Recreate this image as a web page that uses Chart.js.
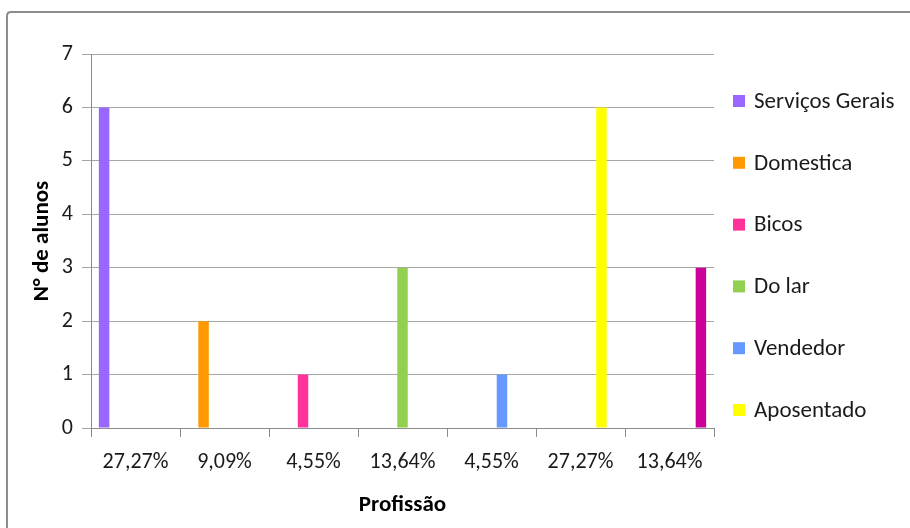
<!DOCTYPE html>
<html>
<head>
<meta charset="utf-8">
<script src="https://cdn.jsdelivr.net/npm/chart.js@4.4.1/dist/chart.umd.min.js"></script>
<style>
  html, body { margin: 0; padding: 0; background: #fff; }
  #wrap { width: 910px; height: 528px; position: relative; }
</style>
</head>
<body>
<div id="wrap"><canvas id="profChart" width="910" height="528"></canvas></div>
<script>
// Profissão dos responsáveis
const categories = ['27,27%', '9,09%', '4,55%', '13,64%', '4,55%', '27,27%', '13,64%'];
const seriesNames = ['Serviços Gerais', 'Domestica', 'Bicos', 'Do lar', 'Vendedor', 'Aposentado', 'Outros'];
const counts = [6, 2, 1, 3, 1, 6, 3];
const colors = ['#9966FF', '#FF9900', '#FF3399', '#92D050', '#6699FF', '#FFFF00', '#CC0099'];
const yTicks = [0, 1, 2, 3, 4, 5, 6, 7];

const FONT = 'Carlito, Lato, "Liberation Sans", sans-serif';

// each series only has a value in its own category (Excel clustered look)
const datasets = seriesNames.map((name, i) => ({
    label: name,
    data: categories.map((c, j) => (j === i ? counts[i] : null)),
    backgroundColor: colors[i],
    borderWidth: 0,
    categoryPercentage: 7 / 8.5,
    barPercentage: 1.0
}));

// frame + side legend drawn by hand (Excel legend clipped at bottom)
const framePlugin = {
    id: 'frame',
    beforeDraw(chart) {
        const ctx = chart.ctx;
        ctx.save();
        ctx.strokeStyle = '#8c8c8c';
        ctx.lineWidth = 2;
        ctx.beginPath();
        ctx.moveTo(7, 600);
        ctx.lineTo(7, 16);
        ctx.quadraticCurveTo(7, 12, 11, 12);
        ctx.lineTo(960, 12);
        ctx.stroke();
        ctx.restore();
    },
    afterDraw(chart) {
        const ctx = chart.ctx;
        ctx.save();
        ctx.font = '23px ' + FONT;
        ctx.textBaseline = 'middle';
        const shown = 6;
        for (let i = 0; i < shown; i++) {
            const y = 101 + i * 61.8;
            ctx.fillStyle = colors[i];
            ctx.fillRect(733, y - 6, 12, 12);
            ctx.fillStyle = '#1a1a1a';
            ctx.fillText(seriesNames[i], 754, y + 1);
        }
        ctx.restore();
    }
};

new Chart(document.getElementById('profChart').getContext('2d'), {
    type: 'bar',
    data: { labels: categories, datasets: datasets },
    options: {
        responsive: false,
        animation: false,
        events: [],
        layout: { padding: { left: 0, top: 54, right: 196, bottom: 0 } },
        plugins: {
            legend: { display: false },
            tooltip: { enabled: false }
        },
        scales: {
            x: {
                offset: true,
                grid: {
                    offset: true,
                    drawOnChartArea: false,
                    drawTicks: true,
                    tickLength: 9,
                    color: '#8c8c8c'
                },
                border: { color: '#8c8c8c', width: 1 },
                ticks: { color: '#1a1a1a', font: { family: FONT, size: 22 }, padding: 12, maxRotation: 0 },
                title: {
                    display: true,
                    text: 'Profissão',
                    color: '#000',
                    font: { family: FONT, size: 23, weight: 'bold' },
                    padding: { top: 0, bottom: 9 }
                },
                afterFit(scale) { scale.height = 100; }
            },
            y: {
                min: 0,
                max: 7,
                afterBuildTicks(scale) { scale.ticks = yTicks.map(v => ({ value: v })); },
                grid: {
                    color: '#a6a6a6',
                    drawTicks: true,
                    tickLength: 9
                },
                border: { color: '#8c8c8c', width: 1 },
                ticks: { color: '#1a1a1a', font: { family: FONT, size: 22 }, padding: 9 },
                title: {
                    display: true,
                    text: 'N° de alunos',
                    color: '#000',
                    font: { family: FONT, size: 23, weight: 'bold' },
                    padding: { top: 28, bottom: 0 }
                },
                afterFit(scale) { scale.width = 91; }
            }
        }
    },
    plugins: [framePlugin]
});
</script>
</body>
</html>
